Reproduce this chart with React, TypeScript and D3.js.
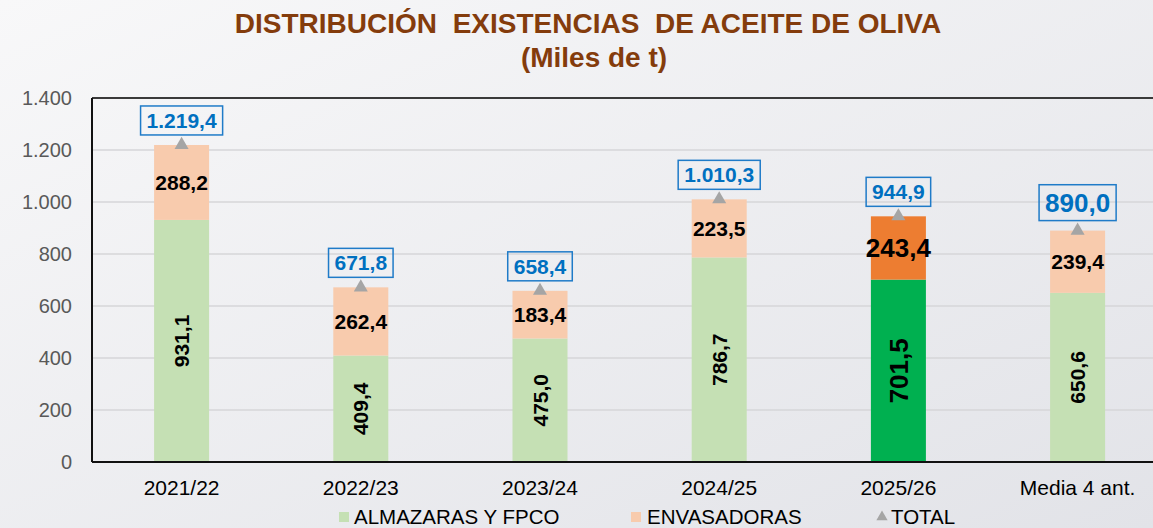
import React from "react";
import * as d3 from "d3";

const categories = ["2021/22", "2022/23", "2023/24", "2024/25", "2025/26", "Media 4 ant."];
const almazaras = [931.1, 409.4, 475.0, 786.7, 701.5, 650.6];
const envasadoras = [288.2, 262.4, 183.4, 223.5, 243.4, 239.4];
const totals = [1219.4, 671.8, 658.4, 1010.3, 944.9, 890.0];
const yTicks = [0, 200, 400, 600, 800, 1000, 1200, 1400];
const highlightCategory = "2025/26";
const bigTotalCategory = "Media 4 ant.";
const legendItems = ["ALMAZARAS Y FPCO", "ENVASADORAS", "TOTAL"];

const W = 1153;
const H = 528;
const FONT = "'Liberation Sans', Arial, sans-serif";

const locale = d3.formatLocale({ decimal: ",", thousands: ".", grouping: [3], currency: ["", "€"] });
const fmt1 = locale.format(",.1f");
const fmt0 = locale.format(",.0f");

function textWidth(s: string, fs: number) {
  let w = 0;
  for (const c of s) {
    if (c >= "0" && c <= "9") w += 0.556;
    else w += 0.278;
  }
  return w * fs;
}

export default function App() {
  const left = 92;
  const top = 98;
  const bottom = 462;
  const step = 179.2;
  const x = d3
    .scaleBand<string>()
    .domain(categories)
    .range([left, left + step * categories.length])
    .paddingInner(0.693)
    .paddingOuter(0.3465);
  const y = d3.scaleLinear().domain([0, 1400]).range([bottom, top]);
  const bw = x.bandwidth();
  const tri = d3.symbol().type(d3.symbolTriangle).size(85)() as string;

  return (
    <svg width={W} height={H} style={{ position: "absolute", left: 0, top: 0 }} fontFamily={FONT}>
      <defs>
        <linearGradient id="bg" x1="0" y1="0" x2="1" y2="1">
          <stop offset="0" stopColor="#f8f8f9" />
          <stop offset="1" stopColor="#e2e3e8" />
        </linearGradient>
      </defs>
      <rect x={0} y={0} width={W} height={H} fill="url(#bg)" />

      {/* Title */}
      <text x={588} y={33} textAnchor="middle" fontSize={28} fontWeight="bold" fill="#843C0C">
        DISTRIBUCIÓN{"\u00A0\u00A0"}EXISTENCIAS{"\u00A0\u00A0"}DE ACEITE DE OLIVA
      </text>
      <text x={594} y={67} textAnchor="middle" fontSize={28} fontWeight="bold" fill="#843C0C">
        (Miles de t)
      </text>

      {/* Gridlines */}
      {yTicks.filter((t) => t > 0 && t < 1400).map((t) => (
        <line key={t} x1={left} x2={W} y1={y(t)} y2={y(t)} stroke="#d6d6d8" strokeWidth={1.5} />
      ))}

      {/* Y tick labels */}
      {yTicks.map((t) => (
        <text key={t} x={72} y={y(t) + 7} textAnchor="end" fontSize={20} fill="#595959">
          {fmt0(t)}
        </text>
      ))}

      {/* Bars */}
      {categories.map((c, i) => {
        const hl = c === highlightCategory;
        const bx = x(c)!;
        const y0 = y(0);
        const y1 = y(almazaras[i]);
        const y2 = y(almazaras[i] + envasadoras[i]);
        return (
          <g key={c}>
            <rect x={bx} y={y1} width={bw} height={y0 - y1} fill={hl ? "#00B050" : "#C5E0B4"} />
            <rect x={bx} y={y2} width={bw} height={y1 - y2} fill={hl ? "#ED7D31" : "#F8CBAD"} />
          </g>
        );
      })}

      {/* Frame */}
      <line x1={left} x2={W} y1={top} y2={top} stroke="#3a3a3a" strokeWidth={2} />
      <line x1={left} x2={left} y1={top} y2={bottom} stroke="#111" strokeWidth={2} />
      <line x1={left} x2={W} y1={bottom} y2={bottom} stroke="#111" strokeWidth={2} />

      {/* Segment labels */}
      {categories.map((c, i) => {
        const hl = c === highlightCategory;
        const cx = x(c)! + bw / 2;
        const fs = hl ? 26 : 21;
        const mA = (y(0) + y(almazaras[i])) / 2;
        const mE = (y(almazaras[i]) + y(almazaras[i] + envasadoras[i])) / 2;
        return (
          <g key={c} fontWeight="bold" fill="#000">
            <text x={cx} y={mE + fs * 0.36} textAnchor="middle" fontSize={fs}>
              {fmt1(envasadoras[i])}
            </text>
            <text
              transform={`translate(${cx + fs * 0.36},${mA}) rotate(-90)`}
              textAnchor="middle"
              fontSize={fs}
            >
              {fmt1(almazaras[i])}
            </text>
          </g>
        );
      })}

      {/* Totals: triangle + boxed label */}
      {categories.map((c, i) => {
        const cx = x(c)! + bw / 2;
        const ty = y(totals[i]);
        const fs = c === bigTotalCategory ? 26 : 21;
        const label = fmt1(totals[i]);
        const w = textWidth(label, fs) + 12;
        const h = fs * 1.38;
        const by = ty - 10 - h;
        return (
          <g key={c}>
            <path d={tri} transform={`translate(${cx},${ty})`} fill="#A5A5A5" />
            <rect x={cx - w / 2} y={by} width={w} height={h} fill="none" stroke="#1F7BC8" strokeWidth={1.5} />
            <text x={cx} y={by + h / 2 + fs * 0.36} textAnchor="middle" fontSize={fs} fontWeight="bold" fill="#0070C0">
              {label}
            </text>
          </g>
        );
      })}

      {/* Category labels */}
      {categories.map((c) => (
        <text key={c} x={x(c)! + bw / 2} y={495} textAnchor="middle" fontSize={21} fill="#000">
          {c}
        </text>
      ))}

      {/* Legend */}
      <g fontSize={20.5} fill="#000">
        <rect x={339} y={512} width={10} height={10} fill="#C5E0B4" />
        <text x={354} y={524}>{legendItems[0]}</text>
        <rect x={631} y={512} width={10} height={10} fill="#F8CBAD" />
        <text x={647} y={524}>{legendItems[1]}</text>
        <path d={d3.symbol().type(d3.symbolTriangle).size(55)() as string} transform="translate(882,517)" fill="#A5A5A5" />
        <text x={891} y={524}>{legendItems[2]}</text>
      </g>
    </svg>
  );
}
